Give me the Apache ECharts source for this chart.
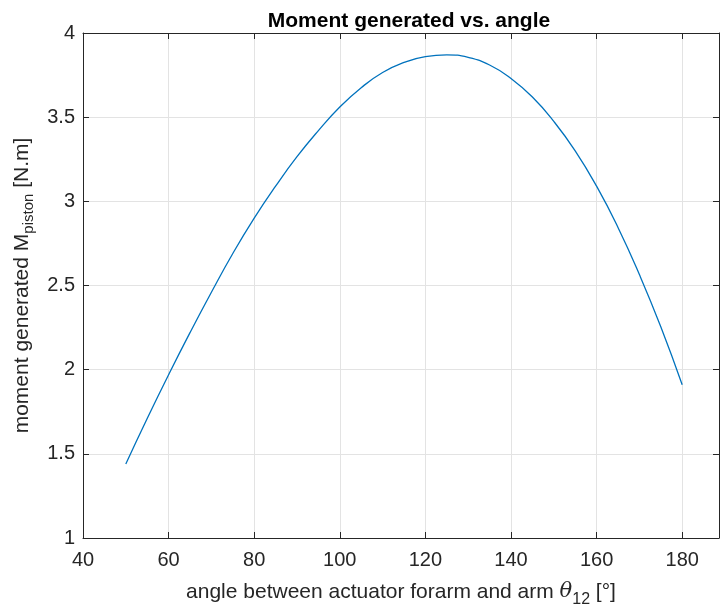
<!DOCTYPE html>
<html>
<head>
<meta charset="utf-8">
<script src="https://cdn.jsdelivr.net/npm/echarts@6/dist/echarts.min.js"></script>
<style>
html,body{margin:0;padding:0;background:#fff;}
#chart{width:722px;height:613px;}
</style>
</head>
<body>
<div id="chart"></div>
<script>
const angles = [50,55,60,65,70,75,80,85,90,95,100,105,110,115,120,125,130,135,140,145,150,155,160,165,170,175,180];
const moments = [1.44,1.71,1.97,2.22,2.46,2.69,2.90,3.09,3.265,3.42,3.56,3.675,3.765,3.825,3.86,3.87,3.855,3.81,3.73,3.62,3.475,3.30,3.09,2.845,2.565,2.255,1.91];
const titleText = 'Moment generated vs. angle';

const FONT = '"Liberation Sans", Arial, sans-serif';
const axisColor = '#262626';
const gridColor = '#e3e3e3';
const xMin = 40, xMax = 188.6, xStep = 20;
const yMin = 1, yMax = 4, yStep = 0.5;

const chart = echarts.init(document.getElementById('chart'));
const baseAxis = {
  axisLine: {show: true, onZero: false, lineStyle: {color: axisColor, width: 1}},
  axisTick: {show: true, inside: true, length: 6, lineStyle: {color: axisColor}},
};
chart.setOption({
  animation: false,
  backgroundColor: '#fff',
  title: {
    text: titleText, left: 404, top: 6, textAlign: 'center',
    textStyle: {fontFamily: FONT, fontSize: 21, fontWeight: 'bold', color: '#000'}
  },
  grid: {left: 83, right: 1, top: 33, bottom: 74, containLabel: false},
  xAxis: [
    Object.assign({}, baseAxis, {
      type: 'value', min: xMin, max: xMax, interval: xStep, position: 'bottom',
      axisLabel: {fontFamily: FONT, fontSize: 20, color: '#262626', margin: 12,
        formatter: v => (v <= 180 ? String(v) : '')},
      splitLine: {show: true, lineStyle: {color: gridColor, width: 1}},
      name: '{t|angle between actuator forarm and arm }{th|θ}{sub|12}{t| [°]}',
      nameLocation: 'middle', nameGap: 38,
      nameTextStyle: {
        rich: {
          t: {fontFamily: FONT, fontSize: 21, color: '#262626'},
          th: {fontFamily: '"DejaVu Serif", serif', fontStyle: 'italic', fontSize: 21, color: '#262626'},
          sub: {fontFamily: FONT, fontSize: 16, color: '#262626', verticalAlign: 'bottom', padding: [16, 0, 0, 0]}
        }
      }
    }),
    Object.assign({}, baseAxis, {
      type: 'value', min: xMin, max: xMax, interval: xStep, position: 'top',
      axisLabel: {show: false}, splitLine: {show: false}
    })
  ],
  yAxis: [
    Object.assign({}, baseAxis, {
      type: 'value', min: yMin, max: yMax, interval: yStep, position: 'left',
      axisLabel: {fontFamily: FONT, fontSize: 20, color: '#262626', margin: 8},
      splitLine: {show: true, lineStyle: {color: gridColor, width: 1}},
      name: '{t|moment generated M}{sub|piston}{t| [N.m]}',
      nameLocation: 'middle', nameGap: 46, nameRotate: 90,
      nameTextStyle: {
        rich: {
          t: {fontFamily: FONT, fontSize: 21, color: '#262626'},
          sub: {fontFamily: FONT, fontSize: 15, color: '#262626', verticalAlign: 'bottom', padding: [14, 0, 0, 0]}
        }
      }
    }),
    Object.assign({}, baseAxis, {
      type: 'value', min: yMin, max: yMax, interval: yStep, position: 'right',
      axisLabel: {show: false}, splitLine: {show: false}
    })
  ],
  series: [{
    type: 'line',
    data: angles.map((a, i) => [a, moments[i]]),
    smooth: true,
    showSymbol: false,
    lineStyle: {color: '#0072BD', width: 1.3},
    xAxisIndex: 0, yAxisIndex: 0
  }]
});
</script>
</body>
</html>
